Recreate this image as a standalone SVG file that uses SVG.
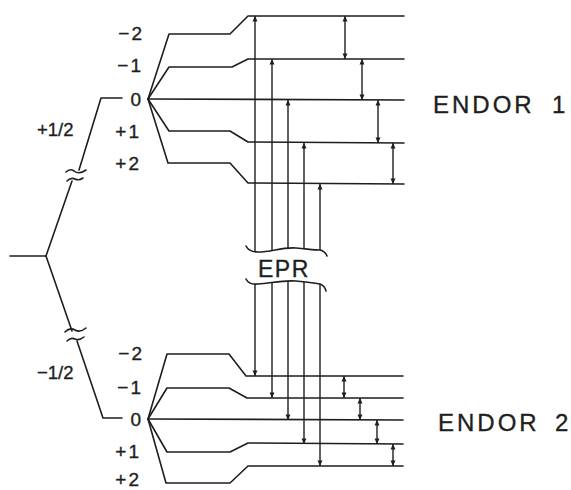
<svg xmlns="http://www.w3.org/2000/svg" width="571" height="490" viewBox="0 0 571 490">
<defs>
<style>
.ln{fill:none;stroke:#1e1e1e;stroke-width:1.6;stroke-linejoin:round;stroke-linecap:round}
.ar{fill:none;stroke:#1e1e1e;stroke-width:1.4}
.lb{font-family:"Liberation Sans",Arial,sans-serif;fill:#1e1e1e;stroke:#1e1e1e;stroke-width:0.35}
.lv{font-size:19px;letter-spacing:2px;text-anchor:end}
.big{font-size:24px;letter-spacing:3px}
</style>
<marker id="ah" viewBox="0 0 10 10" refX="10" refY="5" markerWidth="11" markerHeight="5.5" markerUnits="userSpaceOnUse" orient="auto-start-reverse">
<path d="M0,0.5 L10,5 L0,9.5 Z" fill="#1e1e1e"/>
</marker>
</defs>
<rect width="571" height="490" fill="#ffffff"/>

<g id="zeeman">
<path class="ln" d="M10,256 L46,256"/>
<path class="ln" d="M46,256 L72,181"/>
<path class="ln" d="M79,170 L101,98 L122,98"/>
<path class="ln" d="M66,172 Q70,168 74,171 Q79,175 86,170"/>
<path class="ln" d="M67,181 Q71,177 75,179 Q79,181 83,178"/>
<path class="ln" d="M46,256 L72,331"/>
<path class="ln" d="M77,341 L103,418 L122,418"/>
<path class="ln" d="M65,332 Q70,327 75,330 Q80,333 86,328"/>
<path class="ln" d="M67,341 Q71,337 75,339 Q79,341 84,337"/>
<text class="lb" x="37" y="136" font-size="18.5">+1/2</text>
<text class="lb" x="37" y="379" font-size="18.5">−1/2</text>
</g>

<g id="upper-multiplet">
<path class="ln" d="M148,99 L169,34 L230,34 L248,16 L404,16"/>
<path class="ln" d="M148,99 L169,67 L232,67 L248,59 L404,59"/>
<path class="ln" d="M148,99 L404,100"/>
<path class="ln" d="M148,99 L169,131 L230,131 L248,142 L404,143"/>
<path class="ln" d="M148,99 L168,163 L230,163 L248,183 L404,184"/>
<text class="lb lv" x="144" y="40">−2</text>
<text class="lb lv" x="143" y="72">−1</text>
<text class="lb lv" x="143" y="106">0</text>
<text class="lb lv" x="141" y="138">+1</text>
<text class="lb lv" x="141" y="170">+2</text>
<text class="lb big" x="433" y="113">ENDOR<tspan x="552">1</tspan></text>
</g>

<g id="lower-multiplet">
<path class="ln" d="M148,419 L167,354 L229,354 L246,376 L403,376"/>
<path class="ln" d="M148,419 L167,388 L229,388 L247,398 L403,398"/>
<path class="ln" d="M148,419 L403,420"/>
<path class="ln" d="M148,419 L167,452 L230,452 L248,443 L403,444"/>
<path class="ln" d="M148,419 L166,483 L230,483 L248,466 L403,466"/>
<text class="lb lv" x="144" y="360">−2</text>
<text class="lb lv" x="143" y="394">−1</text>
<text class="lb lv" x="143" y="426">0</text>
<text class="lb lv" x="141" y="458">+1</text>
<text class="lb lv" x="141" y="486">+2</text>
<text class="lb big" x="438" y="431">ENDOR<tspan x="555">2</tspan></text>
</g>

<g id="epr">
<path class="ln" d="M246,246 Q249,252 258,252 C272,252 281,247 296,248 C308,249 314,250 320,250 Q325,251 327,256"/>
<path class="ln" d="M246,279 Q249,285 258,284 C272,283 282,280 296,281 C308,282 315,283 320,284 Q325,286 326,291"/>
<text class="lb" x="258" y="277" font-size="23" letter-spacing="1.5">EPR</text>
</g>

<g id="connectors">
<line class="ar" x1="255" y1="252" x2="255" y2="16" marker-end="url(#ah)"/>
<line class="ar" x1="272" y1="250" x2="272" y2="59" marker-end="url(#ah)"/>
<line class="ar" x1="288" y1="248" x2="288" y2="100" marker-end="url(#ah)"/>
<line class="ar" x1="304" y1="249" x2="304" y2="143" marker-end="url(#ah)"/>
<line class="ar" x1="320" y1="250" x2="320" y2="184" marker-end="url(#ah)"/>
<line class="ar" x1="255" y1="284" x2="255" y2="376" marker-end="url(#ah)"/>
<line class="ar" x1="272" y1="283" x2="272" y2="398" marker-end="url(#ah)"/>
<line class="ar" x1="288" y1="281" x2="288" y2="420" marker-end="url(#ah)"/>
<line class="ar" x1="304" y1="282" x2="304" y2="444" marker-end="url(#ah)"/>
<line class="ar" x1="320" y1="284" x2="320" y2="466" marker-end="url(#ah)"/>
<line class="ar" x1="345" y1="16" x2="345" y2="59" marker-start="url(#ah)" marker-end="url(#ah)"/>
<line class="ar" x1="362" y1="59" x2="362" y2="100" marker-start="url(#ah)" marker-end="url(#ah)"/>
<line class="ar" x1="378" y1="100" x2="378" y2="143" marker-start="url(#ah)" marker-end="url(#ah)"/>
<line class="ar" x1="393" y1="143" x2="393" y2="184" marker-start="url(#ah)" marker-end="url(#ah)"/>
<line class="ar" x1="344" y1="376" x2="344" y2="398" marker-start="url(#ah)" marker-end="url(#ah)"/>
<line class="ar" x1="360" y1="398" x2="360" y2="420" marker-start="url(#ah)" marker-end="url(#ah)"/>
<line class="ar" x1="377" y1="420" x2="377" y2="444" marker-start="url(#ah)" marker-end="url(#ah)"/>
<line class="ar" x1="393" y1="444" x2="393" y2="466" marker-start="url(#ah)" marker-end="url(#ah)"/>
</g>
</svg>
